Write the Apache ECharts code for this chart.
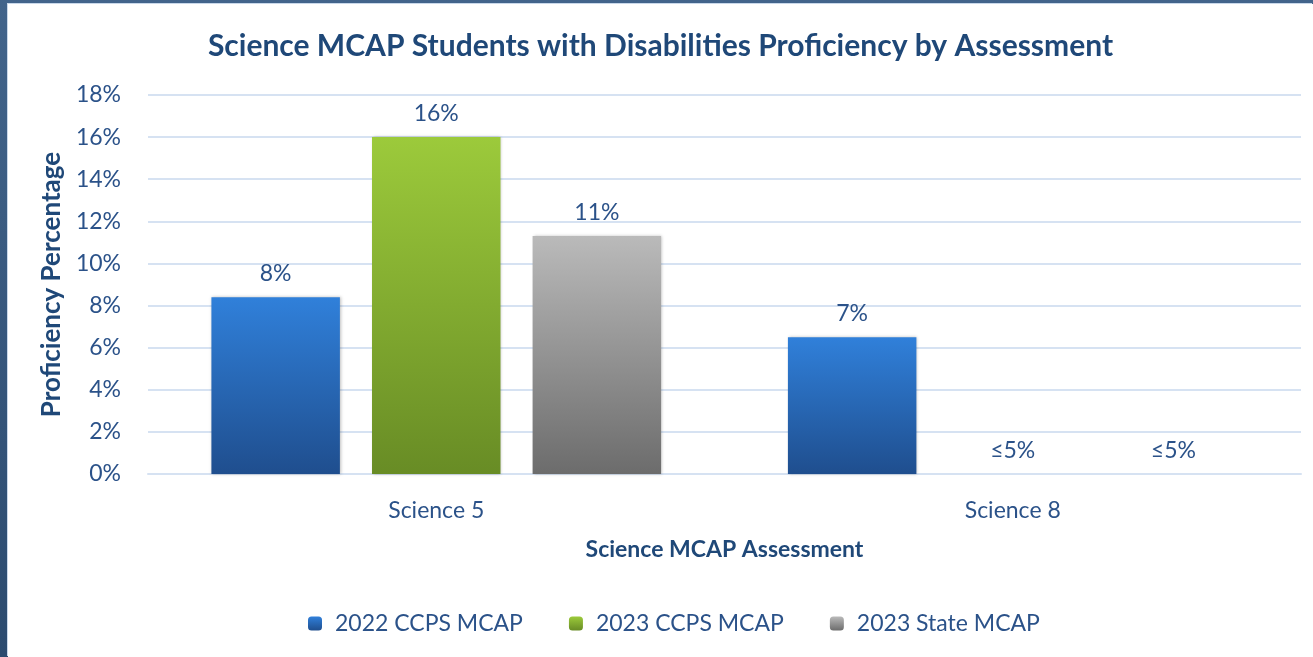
<!DOCTYPE html>
<html>
<head>
<meta charset="utf-8">
<script src="https://cdn.jsdelivr.net/npm/echarts@6/dist/echarts.min.js"></script>
<style>
  html, body { margin: 0; padding: 0; width: 1313px; height: 657px; overflow: hidden; }
  body { background: linear-gradient(180deg, #42648b 0%, #2c4b6f 100%); }
  #chart {
    position: absolute; left: 8px; top: 4px; width: 1305px; height: 653px;
    background: #fff; box-shadow: -1px -1px 0 #c9d8ea;
  }
</style>
</head>
<body>
<div id="chart"></div>
<script>
// chart data
var categories = ["Science 5", "Science 8"];
var seriesNames = ["2022 CCPS MCAP", "2023 CCPS MCAP", "2023 State MCAP"];
var ccps2022 = [8.4, 6.5];
var ccps2023 = [16.0, 0];
var state2023 = [11.3, 0];
var labels2022 = ["8%", "7%"];
var labels2023 = ["16%", "≤5%"];
var labelsState = ["11%", "≤5%"];

var textBlue = "#2b5289";
var font = "Lato";

function grad(top, bottom) {
  return new echarts.graphic.LinearGradient(0, 0, 0, 1, [
    { offset: 0, color: top },
    { offset: 1, color: bottom }
  ]);
}

function makeSeries(name, values, labels, top, bottom) {
  return {
    name: name,
    type: "bar",
    data: values,
    barGap: "25%",
    barCategoryGap: "22%",
    itemStyle: {
      color: grad(top, bottom),
      shadowBlur: 3,
      shadowColor: "rgba(0,0,0,0.25)",
      shadowOffsetX: 1
    },
    label: {
      show: true,
      position: "top",
      distance: 12,
      color: textBlue,
      fontFamily: font,
      fontSize: 23,
      formatter: function (p) { return labels[p.dataIndex]; }
    }
  };
}

var chart = echarts.init(document.getElementById("chart"));
chart.setOption({
  animation: false,
  title: {
    text: "Science MCAP Students with Disabilities Proficiency by Assessment",
    left: "center",
    top: 22,
    textStyle: { color: "#1f4878", fontFamily: font, fontSize: 30, fontWeight: "bold" }
  },
  legend: {
    data: seriesNames,
    left: 295,
    top: 603,
    itemWidth: 14,
    itemHeight: 14,
    itemGap: 46,
    textStyle: { color: textBlue, fontFamily: font, fontSize: 23, padding: [0, 0, 0, 8] }
  },
  grid: { left: 140, top: 91, width: 1153, height: 379, containLabel: false },
  xAxis: {
    type: "category",
    data: categories,
    name: "Science MCAP Assessment",
    nameLocation: "middle",
    nameGap: 64,
    nameTextStyle: { color: "#1f4878", fontFamily: font, fontSize: 23, fontWeight: "bold" },
    axisLine: { show: true, lineStyle: { color: "#d6e2f2", width: 2 } },
    axisTick: { show: false },
    axisLabel: { color: textBlue, fontFamily: font, fontSize: 23, margin: 25 },
  },
  yAxis: {
    type: "value",
    min: 0,
    max: 18,
    interval: 2,
    name: "Proficiency Percentage",
    nameLocation: "middle",
    nameGap: 73,
    nameTextStyle: { color: "#1f4878", fontFamily: font, fontSize: 26, fontWeight: "bold" },
    axisLine: { show: false },
    axisTick: { show: false },
    axisLabel: { color: textBlue, fontFamily: font, fontSize: 23, margin: 27, formatter: "{value}%" },
    splitLine: { lineStyle: { color: "#d6e2f2", width: 2 } }
  },
  series: [
    makeSeries(seriesNames[0], ccps2022, labels2022, "#3080da", "#1f4e8e"),
    makeSeries(seriesNames[1], ccps2023, labels2023, "#9cca3b", "#688c25"),
    makeSeries(seriesNames[2], state2023, labelsState, "#bababa", "#6c6c6c")
  ]
});
</script>
</body>
</html>
